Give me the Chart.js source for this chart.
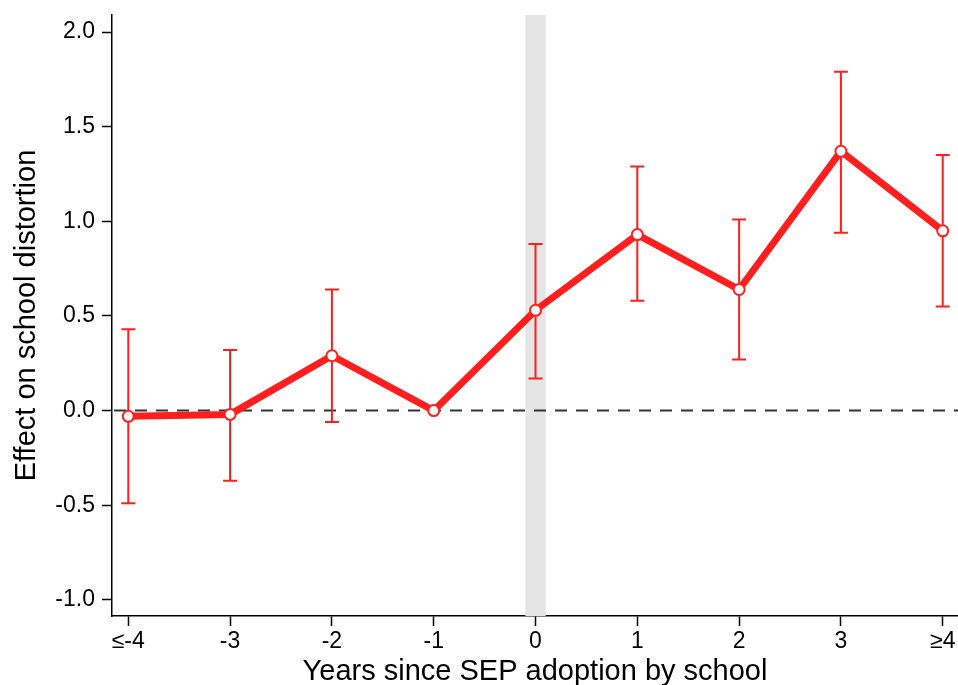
<!DOCTYPE html>
<html>
<head>
<meta charset="utf-8">
<script src="https://cdn.jsdelivr.net/npm/chart.js@4"></script>
<style>
  html, body { margin: 0; padding: 0; background: #fff; }
  #wrap { width: 958px; height: 685px; }
</style>
</head>
<body>
<div id="wrap"><canvas id="chart"></canvas></div>
<script>
// event-study data
const years = ["≤-4", "-3", "-2", "-1", "0", "1", "2", "3", "≥4"];
const effect = [-0.03, -0.02, 0.29, 0.0, 0.53, 0.93, 0.64, 1.37, 0.95];
const ciUpper = [0.43, 0.32, 0.64, null, 0.88, 1.29, 1.01, 1.79, 1.35];
const ciLower = [-0.49, -0.37, -0.06, null, 0.17, 0.58, 0.27, 0.94, 0.55];
const yTicks = [-1.0, -0.5, 0.0, 0.5, 1.0, 1.5, 2.0];

const red = "#ff1f1f";
const font = "'Liberation Sans', Arial, Helvetica, sans-serif";

// gray band at adoption year, dashed zero line, error bars
const extras = {
  id: "extras",
  beforeDatasetsDraw(chart) {
    const { ctx, chartArea, scales: { x, y } } = chart;
    ctx.save();

    // adoption band
    ctx.fillStyle = "#e5e5e5";
    const b0 = x.getPixelForValue(4 - 0.1);
    const b1 = x.getPixelForValue(4 + 0.1);
    ctx.fillRect(b0, chartArea.top, b1 - b0, chartArea.bottom - chartArea.top);

    // zero line
    ctx.strokeStyle = "#333";
    ctx.lineWidth = 2;
    ctx.setLineDash([12, 9]);
    const y0 = y.getPixelForValue(0);
    ctx.beginPath();
    ctx.moveTo(chartArea.left + 2, y0);
    ctx.lineTo(chartArea.right, y0);
    ctx.stroke();
    ctx.setLineDash([]);

    // confidence intervals
    ctx.strokeStyle = red;
    ctx.lineWidth = 2;
    years.forEach((_, i) => {
      if (ciUpper[i] == null) return;
      const px = x.getPixelForValue(i);
      const top = y.getPixelForValue(ciUpper[i]);
      const bot = y.getPixelForValue(ciLower[i]);
      ctx.beginPath();
      ctx.moveTo(px, top);
      ctx.lineTo(px, bot);
      ctx.moveTo(px - 7, top);
      ctx.lineTo(px + 7, top);
      ctx.moveTo(px - 7, bot);
      ctx.lineTo(px + 7, bot);
      ctx.stroke();
    });
    ctx.restore();
  }
};

new Chart(document.getElementById("chart"), {
  type: "line",
  data: {
    datasets: [
      {
        data: effect.map((v, i) => ({ x: i, y: v })),
        borderColor: red,
        borderWidth: 7,
        pointRadius: 5.5,
        pointBorderWidth: 2,
        pointBackgroundColor: "#fff",
        pointBorderColor: red,
        tension: 0,
      },
    ],
  },
  options: {
    responsive: true,
    maintainAspectRatio: false,
    animation: false,
    layout: { autoPadding: false, padding: { top: 15, right: 0, left: 0, bottom: 0 } },
    plugins: {
      legend: { display: false },
      tooltip: { enabled: false },
    },
    scales: {
      x: {
        type: "linear",
        min: -0.16,
        max: 8.15,
        afterBuildTicks: (scale) => {
          scale.ticks = years.map((_, i) => ({ value: i }));
        },
        afterFit: (scale) => {
          scale.height = 69;
          scale.paddingRight = 0;
          scale.paddingLeft = 0;
        },
        ticks: {
          color: "#000",
          font: { family: font, size: 23 },
          padding: 2,
          maxRotation: 0,
          autoSkip: false,
          callback: (v) => years[v],
        },
        grid: {
          drawOnChartArea: false,
          tickLength: 10,
          tickColor: "#000",
          tickWidth: 1.5,
        },
        border: { color: "#000", width: 1.5 },
        title: {
          display: true,
          text: "Years since SEP adoption by school",
          color: "#000",
          font: { family: font, size: 29 },
          padding: { top: 0, bottom: -4 },
        },
      },
      y: {
        min: -1.085,
        max: 2.09,
        afterBuildTicks: (scale) => {
          scale.ticks = yTicks.map((v) => ({ value: v }));
        },
        afterFit: (scale) => {
          scale.width = 112;
          scale.paddingTop = 0;
          scale.paddingBottom = 0;
        },
        ticks: {
          color: "#000",
          font: { family: font, size: 23 },
          padding: 7,
          callback: (v) => v.toFixed(1),
        },
        grid: {
          drawOnChartArea: false,
          tickLength: 10,
          tickColor: "#000",
          tickWidth: 1.5,
        },
        border: { color: "#000", width: 1.5 },
        title: {
          display: true,
          text: "Effect on school distortion",
          color: "#000",
          font: { family: font, size: 29 },
          padding: { top: 10, bottom: 0 },
        },
      },
    },
  },
  plugins: [extras],
});
</script>
</body>
</html>
